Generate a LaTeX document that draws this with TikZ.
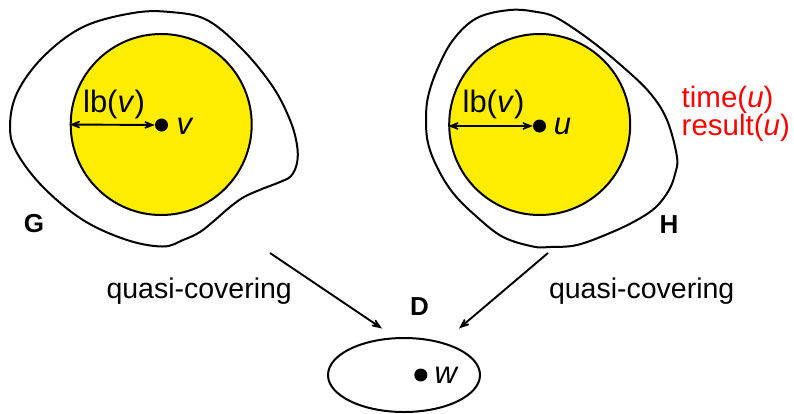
\documentclass[tikz,border=0pt]{standalone}
\usepackage{fontspec}
\setmainfont{Liberation Sans}
\usetikzlibrary{arrows.meta}
\definecolor{discyellow}{RGB}{255,237,0}
\definecolor{labelred}{RGB}{255,0,0}
\tikzset{
  outline/.style={line width=2pt, line join=round},
  disc/.style={circle, draw, line width=2pt, fill=discyellow, minimum size=181pt, inner sep=0pt},
  centre/.style={circle, fill=black, minimum size=13pt, inner sep=0pt},
  arr/.style={line width=1.9pt, -{Stealth[length=19pt,width=15pt,inset=12.5pt]}},
  dblarr/.style={line width=1.9pt, {Stealth[length=19pt,width=15pt,inset=13pt]}-{Stealth[length=19pt,width=15pt,inset=13pt]}},
  lbl/.style={inner sep=0pt, font=\fontsize{31}{36}\selectfont},
  qlbl/.style={inner sep=0pt, font=\fontsize{28.5}{34}\selectfont},
  redlbl/.style={inner sep=0pt, anchor=base west, text=labelred, font=\fontsize{29.5}{34}\selectfont},
  graphname/.style={inner sep=0pt, font=\fontsize{26}{30}\selectfont\bfseries},
}
\begin{document}
\begin{tikzpicture}[x=1pt,y=-1pt]
\useasboundingbox (0,0) rectangle (794,413);
% G outline
\draw[outline] plot[smooth cycle, tension=0.6] coordinates {
 (170,12) (207,20) (243,50) (273,87) (290,120) (297,145) (297,163) (291,176)
 (280,182) (262,189) (244,197) (230,207) (215,220) (200,232) (183,240)
 (163,246.5) (127,240) (83,220) (43,187) (17,153) (10,127) (17,93) (43,57)
 (83,27) (133,13)};
% H outline
\draw[outline] plot[smooth cycle, tension=0.6] coordinates {
 (510,10) (537,12) (557,18) (590,40) (623,67) (650,93) (667,120) (677,157)
 (675,174) (669,190) (656,207) (637,220) (610,233) (577,245) (550,247)
 (533,246.5) (503,237) (477,217) (453,193) (437,167) (428,143) (426,120)
 (428,97) (437,70) (453,40) (477,18)};
% discs
\node[disc] (gdisc) at (161.2,124.5) {};
\node[disc] (hdisc) at (539.7,124.5) {};
\node[centre] (vdot) at (161.5,125) {};
\node[centre] (udot) at (539.5,126) {};
\draw[dblarr] (gdisc.west) -- (vdot.west);
\draw[dblarr] (hdisc.west |- udot) -- (udot.west);
\node[lbl, anchor=base] (lbg) at (114,112) {lb(\textit{v})};
\node[lbl, anchor=base] (lbh) at (493.5,112) {lb(\textit{v})};
\node[lbl, anchor=base] (vlab) at (185,134) {\textit{v}};
\node[lbl, anchor=base] (ulab) at (562.5,134) {\textit{u}};
% red labels
\node[redlbl] (time) at (681.5,107.5) {time(\textit{u})};
\node[redlbl] (result) at (681.5,135.5) {result(\textit{u})};
% names
\node[graphname] (gname) at (34,224) {G};
\node[graphname] (hname) at (669,225) {H};
\node[graphname] (dname) at (419.5,307) {D};
% D ellipse
\draw[outline] (404,375) ellipse [x radius=76, y radius=37];
\node[centre] (wdot) at (420.8,375) {};
\node[lbl, anchor=base] (wlab) at (446.7,383.5) {\textit{w}};
% arrows
\coordinate (gout) at (270,253);
\coordinate (hout) at (548,253);
\coordinate (dinl) at (382,328.5);
\coordinate (dinr) at (459,328.5);
\draw[arr] (gout) -- (dinl);
\draw[arr] (hout) -- (dinr);
\node[qlbl, anchor=base] (qleft) at (199.2,298) {quasi-covering};
\node[qlbl, anchor=base] (qright) at (641.7,298) {quasi-covering};
\end{tikzpicture}
\end{document}
